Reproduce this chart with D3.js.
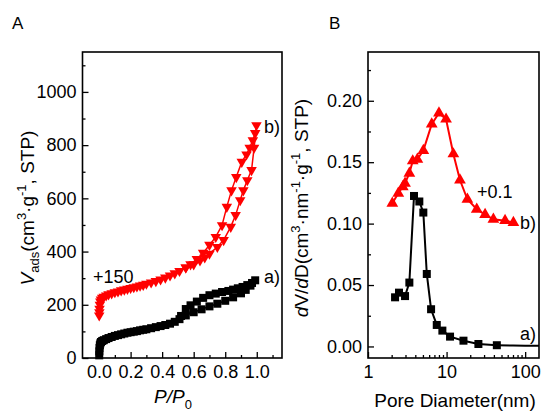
<!DOCTYPE html>
<html>
<head>
<meta charset="utf-8">
<script src="https://cdnjs.cloudflare.com/ajax/libs/d3/7.8.5/d3.min.js"></script>
<style>
body { margin: 0; background: #fff; }
svg { display: block; }
text { font-family: Arial, "Liberation Sans", sans-serif; fill: #000; }
</style>
</head>
<body>
<svg id="chart" width="541" height="414"></svg>
<script>
// PANEL A - isotherms (b already shifted by +150)
var aAdsP = [0.001,0.002,0.003,0.005,0.008,0.012,0.02,0.03,0.045,0.06,0.08,0.1,0.12,0.14,0.16,0.18,0.2,0.22,0.24,0.26,0.28,0.3,0.33,0.36,0.39,0.42,0.45,0.48,0.51,0.55,0.6,0.65,0.7,0.75,0.8,0.85,0.9,0.93,0.96,0.99];
var aAdsV = [10,25,38,48,55,60,64,67,71,75,79,83,86,89,92,95,97,99,101,104,106,108,112,116,120,124,129,136,146,160,172,183,194,204,215,228,243,256,272,292];
var aDesP = [0.97,0.94,0.91,0.88,0.85,0.82,0.78,0.74,0.7,0.66,0.62,0.58,0.55,0.52];
var aDesV = [282,274,267,262,257,252,248,242,236,226,212,198,184,158];

var bAdsP = [0.001,0.002,0.003,0.005,0.008,0.012,0.02,0.03,0.045,0.06,0.08,0.1,0.12,0.14,0.16,0.18,0.2,0.22,0.24,0.26,0.28,0.3,0.33,0.36,0.39,0.42,0.45,0.48,0.51,0.55,0.6,0.64,0.67,0.7,0.75,0.79,0.835,0.866,0.895,0.915,0.94,0.967,0.983,0.998];
var bAdsV = [160,172,185,200,212,220,226,230,235,239,243,247,250,254,257,260,263,266,269,272,275,279,284,289,295,302,310,318,327,340,352,367,378,392,417,443,493,537,593,630,668,706,790,875];
var bDesP = [0.99,0.975,0.955,0.935,0.905,0.87,0.84,0.81,0.78,0.74,0.7,0.66,0.62,0.58,0.55];
var bDesV = [845,818,790,765,737,680,630,568,499,455,425,395,372,352,340];

var aTicks = [0,200,400,600,800,1000];
var pTicks = [0,0.2,0.4,0.6,0.8,1.0];

// PANEL B - pore size distribution (b shifted by +0.1)
var psdAD = [2.21,2.48,2.96,3.36,3.85,4.5,5.06,5.6,6.35,7.5,8.84,11.07,16.4,25.4,43.6];
var psdAV = [0.040,0.0438,0.041,0.052,0.1225,0.118,0.109,0.059,0.0303,0.0175,0.0129,0.008,0.0047,0.002,0.001];
var psdATailD = [43.6,70,100,150];
var psdATailV = [0.001,0.0008,0.0006,0.0005];
var psdBD = [2.04,2.43,2.77,2.96,3.36,3.71,4.25,5.06,6.47,8.0,9.85,12.2,14.8,18.4,24.2,30.9,39.4,55.5,70.8];
var psdBV = [0.1165,0.1247,0.130,0.1328,0.141,0.151,0.1524,0.1594,0.181,0.190,0.185,0.1567,0.1355,0.1198,0.1117,0.1073,0.1035,0.1024,0.1008];

var bTicks = [0,0.05,0.10,0.15,0.20];
var dTicks = [1,10,100];

var svg = d3.select("#chart");

function zip(xs, ys) {
    return xs.map(function (x, i) { return [x, ys[i]]; });
}

// ===== PANEL A =====
var xA = d3.scaleLinear().domain([-0.105, 1.16]).range([82.5, 282]);
var yA = d3.scaleLinear().domain([0, 1150]).range([358, 52]);

function frame(x0, y0, x1, y1) {
    svg.append("rect")
        .attr("x", x0).attr("y", y0)
        .attr("width", x1 - x0).attr("height", y1 - y0)
        .attr("fill", "none").attr("stroke", "#000").attr("stroke-width", 1.6);
}

function drawAxes(xs, ys, xMaj, xMin, yMaj, yMin, xFmt, yFmt) {
    var y0 = ys.range()[0], x0 = xs.range()[0];
    // X major
    svg.append("g").attr("transform", "translate(0," + y0 + ")")
        .call(d3.axisBottom(xs).tickValues(xMaj).tickFormat(xFmt).tickSizeInner(-6).tickSizeOuter(0).tickPadding(7))
        .call(function (g) { g.select(".domain").remove(); })
        .call(function (g) { g.selectAll("line").attr("stroke-width", 1.3); })
        .selectAll("text").attr("font-size", 18).attr("font-family", "Arial, 'Liberation Sans', sans-serif");
    svg.append("g").attr("transform", "translate(0," + y0 + ")")
        .call(d3.axisBottom(xs).tickValues(xMin).tickFormat("").tickSizeInner(-3).tickSizeOuter(0))
        .call(function (g) { g.select(".domain").remove(); })
        .call(function (g) { g.selectAll("line").attr("stroke-width", 1.3); });
    // Y major
    svg.append("g").attr("transform", "translate(" + x0 + ",0)")
        .call(d3.axisLeft(ys).tickValues(yMaj).tickFormat(yFmt).tickSizeInner(-6).tickSizeOuter(0).tickPadding(6))
        .call(function (g) { g.select(".domain").remove(); })
        .call(function (g) { g.selectAll("line").attr("stroke-width", 1.3); })
        .selectAll("text").attr("font-size", 18).attr("font-family", "Arial, 'Liberation Sans', sans-serif");
    svg.append("g").attr("transform", "translate(" + x0 + ",0)")
        .call(d3.axisLeft(ys).tickValues(yMin).tickFormat("").tickSizeInner(-3).tickSizeOuter(0))
        .call(function (g) { g.select(".domain").remove(); })
        .call(function (g) { g.selectAll("line").attr("stroke-width", 1.3); });
}

var pMinor = [0.1,0.3,0.5,0.7,0.9,1.1];
var vMinor = [100,300,500,700,900,1100];
drawAxes(xA, yA, pTicks, pMinor, aTicks, vMinor, d3.format(".1f"), d3.format("d"));

var lineA = d3.line().x(function (d) { return xA(d[0]); }).y(function (d) { return yA(d[1]); });

function squares(g, pts, xs, ys, s, col) {
    g.selectAll(null).data(pts).enter().append("rect")
        .attr("x", function (d) { return xs(d[0]) - s / 2; })
        .attr("y", function (d) { return ys(d[1]) - s / 2; })
        .attr("width", s).attr("height", s)
        .attr("fill", col);
}
function triangles(g, pts, xs, ys, s, col, down) {
    var sym = d3.symbol().type(d3.symbolTriangle).size(s);
    g.selectAll(null).data(pts).enter().append("path")
        .attr("d", sym)
        .attr("transform", function (d) {
            return "translate(" + xs(d[0]) + "," + ys(d[1]) + ")" + (down ? " rotate(180)" : "");
        })
        .attr("fill", col);
}

var gA = svg.append("g");
[zip(aAdsP, aAdsV), zip(aDesP, aDesV)].forEach(function (pts) {
    gA.append("path").datum(pts).attr("d", lineA).attr("fill", "none").attr("stroke", "#000").attr("stroke-width", 1.5);
    squares(gA, pts, xA, yA, 8, "#000");
});
[zip(bAdsP, bAdsV), zip(bDesP, bDesV)].forEach(function (pts) {
    gA.append("path").datum(pts).attr("d", lineA).attr("fill", "none").attr("stroke", "#ff0000").attr("stroke-width", 1.5);
    triangles(gA, pts, xA, yA, 48, "#ff0000", true);
});

// ===== PANEL B =====
var xB = d3.scaleLog().domain([1, 150]).range([368, 539]);
var yB = d3.scaleLinear().domain([-0.0094, 0.2397]).range([358, 52]);
var dMinor = [2,3,4,5,6,7,8,9,20,30,40,50,60,70,80,90];
var psdMinor = [0.025,0.075,0.125,0.175,0.225];
drawAxes(xB, yB, dTicks, dMinor, bTicks, psdMinor, d3.format("d"), d3.format(".2f"));

var lineB = d3.line().x(function (d) { return xB(d[0]); }).y(function (d) { return yB(d[1]); });
var gB = svg.append("g");
gB.append("path").datum(zip(psdAD, psdAV)).attr("d", lineB).attr("fill", "none").attr("stroke", "#000").attr("stroke-width", 2);
gB.append("path").datum(zip(psdATailD, psdATailV)).attr("d", lineB).attr("fill", "none").attr("stroke", "#000").attr("stroke-width", 2);
squares(gB, zip(psdAD, psdAV), xB, yB, 8, "#000");
gB.append("path").datum(zip(psdBD, psdBV)).attr("d", lineB).attr("fill", "none").attr("stroke", "#ff0000").attr("stroke-width", 2);
triangles(gB, zip(psdBD, psdBV), xB, yB, 60, "#ff0000", false);

frame(82.5, 52, 282, 358);
frame(368, 52, 539, 358);

// ===== LABELS =====
function label(x, y, t, fs) {
    return svg.append("text").attr("x", x).attr("y", y).attr("font-size", fs || 18).text(t);
}
label(12, 29, "A", 17);
label(329, 29, "B", 17);
label(264, 133, "b)", 18);
label(264, 283, "a)", 18);
label(93, 283, "+150", 18);
label(477, 198, "+0.1", 18);
label(520, 229, "b)", 18);
label(520, 340, "a)", 18);

// P/P0
var px = svg.append("text").attr("x", 173).attr("y", 403).attr("font-size", 19).attr("text-anchor", "middle");
px.append("tspan").attr("font-style", "italic").text("P/P");
px.append("tspan").attr("font-size", 13).attr("dy", 6).text("0");

label(455, 407, "Pore Diameter(nm)", 19).attr("text-anchor", "middle");

// Y TITLE A
var ta = svg.append("text").attr("transform", "translate(34,208) rotate(-90)").attr("font-size", 19).attr("text-anchor", "middle");
ta.append("tspan").attr("font-style", "italic").text("V");
ta.append("tspan").attr("font-size", 13).attr("dy", 5).text("ads");
ta.append("tspan").attr("dy", -5).text("(cm");
ta.append("tspan").attr("font-size", 13).attr("dy", -8).text("3");
ta.append("tspan").attr("dy", 8).text("\u00b7g");
ta.append("tspan").attr("font-size", 13).attr("dy", -8).text("-1");
ta.append("tspan").attr("dy", 8).text(", STP)");

// Y TITLE B
var tb = svg.append("text").attr("transform", "translate(308,208) rotate(-90)").attr("font-size", 19).attr("text-anchor", "middle");
tb.append("tspan").attr("font-style", "italic").text("d");
tb.append("tspan").text("V/");
tb.append("tspan").attr("font-style", "italic").text("d");
tb.append("tspan").text("D(cm");
tb.append("tspan").attr("font-size", 13).attr("dy", -8).text("3");
tb.append("tspan").attr("dy", 8).text("\u00b7nm");
tb.append("tspan").attr("font-size", 13).attr("dy", -8).text("-1");
tb.append("tspan").attr("dy", 8).text("\u00b7g");
tb.append("tspan").attr("font-size", 13).attr("dy", -8).text("-1");
tb.append("tspan").attr("dy", 8).text(", STP)");
</script>
</body>
</html>
